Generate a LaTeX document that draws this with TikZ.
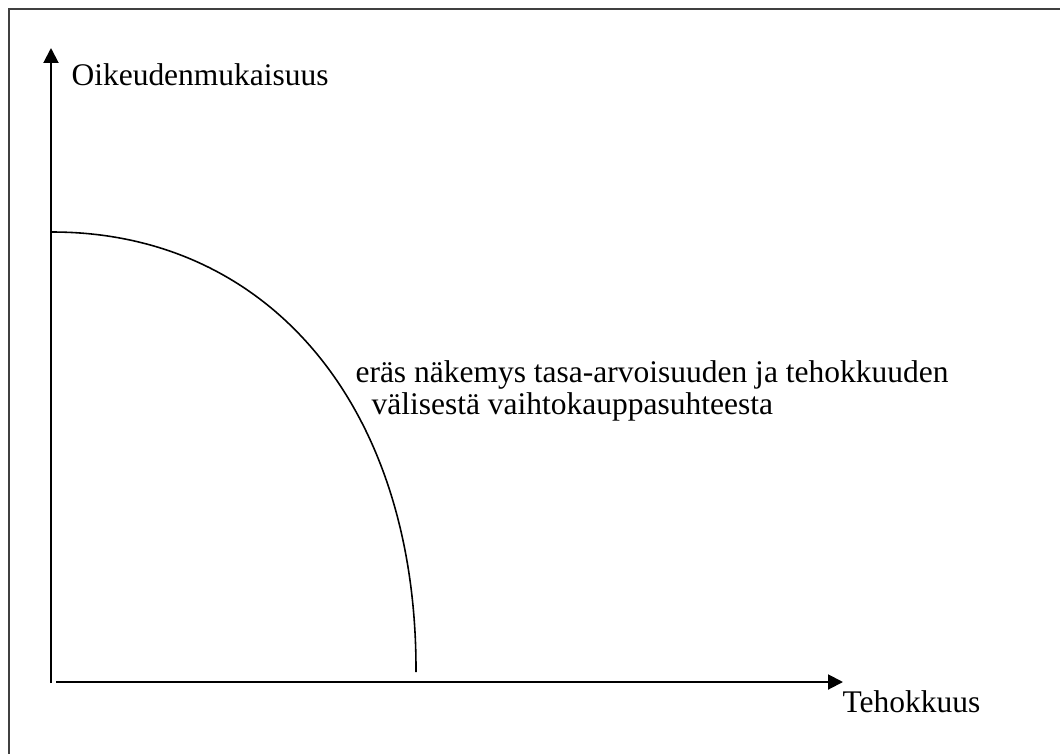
\documentclass[tikz,border=0pt]{standalone}
\usepackage{fontspec}
\setmainfont{Liberation Serif}
\usetikzlibrary{arrows.meta, positioning}

\begin{document}
\begin{tikzpicture}[
    x=0.381pt, y=-0.381pt,
    % ---------------------------------------------------------
    % STYLES
    % ---------------------------------------------------------
    frame line/.style={
        draw=black!75,
        line width=0.76pt
    },
    axis line/.style={
        draw=black,
        line width=0.76pt,
        -{Triangle[length=5.7pt, width=5.7pt]}
    },
    curve line/.style={
        draw=black,
        line width=0.6pt
    },
    axis label/.style={
        anchor=base west,
        inner sep=0pt,
        font=\fontsize{12}{14}\selectfont
    }
]
\useasboundingbox (0,0) rectangle (1060,754);

% ---------------------------------------------------------
% 1. COORDINATES
% ---------------------------------------------------------
\coordinate (frameTL) at (9, 9);
\coordinate (frameTR) at (1060, 9);
\coordinate (frameBL) at (9, 754);

\coordinate (yBase) at (51, 683);
\coordinate (yTip)  at (51, 48);
\coordinate (xBase) at (56, 682);
\coordinate (xTip)  at (843, 682);

\coordinate (arcTop) at (52, 232);
\coordinate (arcEnd) at (416, 672);

% ---------------------------------------------------------
% 2. FRAME AND AXES
% ---------------------------------------------------------
\draw[frame line] (frameTR) -- (frameTL) -- (frameBL);

\draw[axis line] (yBase) -- (yTip);
\draw[axis line] (xBase) -- (xTip);

% ---------------------------------------------------------
% 3. TRADE-OFF CURVE
% ---------------------------------------------------------
\draw[curve line] (arcTop) .. controls (270, 232) and (417, 408) .. (arcEnd);

% ---------------------------------------------------------
% 4. LABELS
% ---------------------------------------------------------
\node[axis label] (lblY) at (71, 85) {Oikeudenmukaisuus};
\node[axis label] (lblX) at (842, 712) {Tehokkuus};

\node[axis label] (lblCurve1) at (355, 382) {eräs näkemys tasa-arvoisuuden ja tehokkuuden};
\node[axis label] (lblCurve2) at (371, 414) {välisestä vaihtokauppasuhteesta};

\end{tikzpicture}
\end{document}
